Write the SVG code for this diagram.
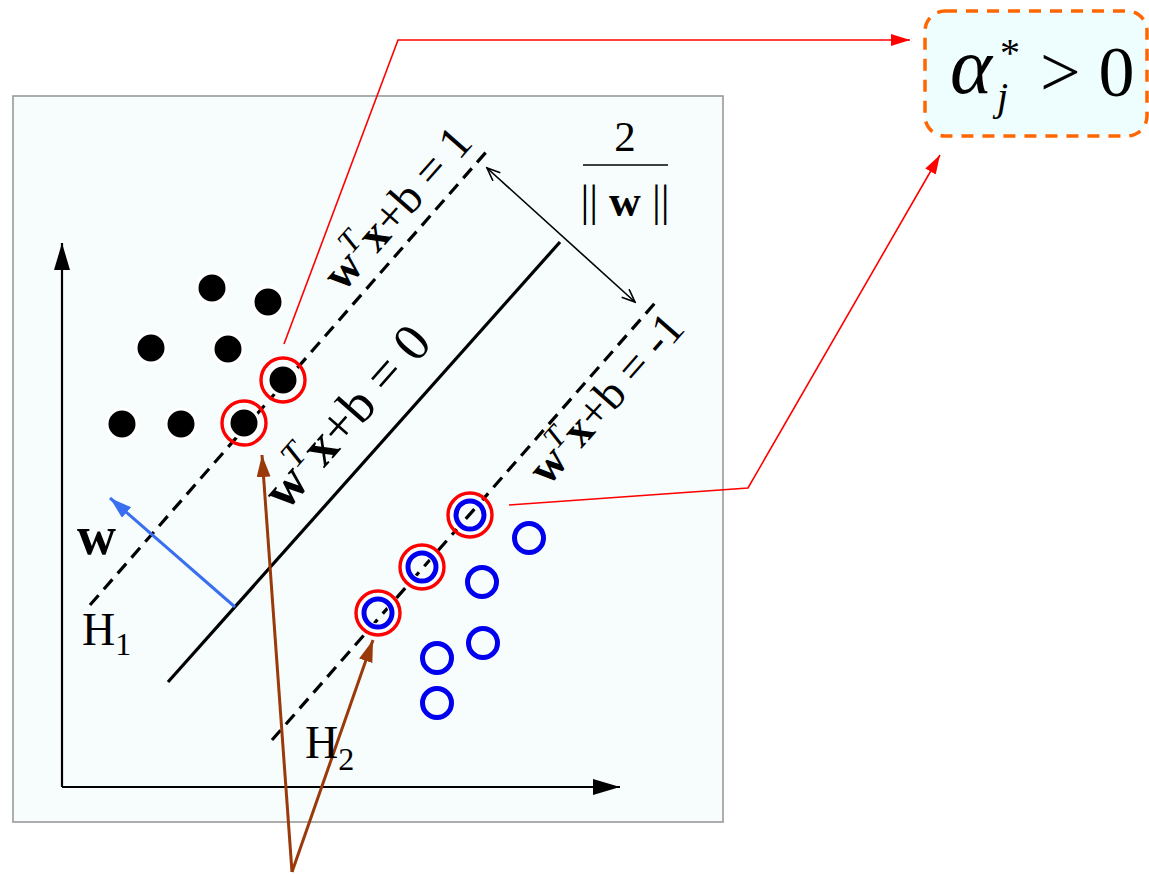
<svg xmlns="http://www.w3.org/2000/svg" width="1149" height="874" viewBox="0 0 1149 874">
<defs>
<style>
text{font-family:"Liberation Serif","Times New Roman",serif;fill:#000}
.b{font-weight:bold}
.i{font-style:italic}
.dash{stroke:#000;stroke-width:3.2;stroke-dasharray:13 8;fill:none}
.dot{fill:#000;stroke:#fff;stroke-width:3}
.ring{fill:none;stroke:#0000ee;stroke-width:5}
.halo{fill:none;stroke:#fff;stroke-width:9}
.sv{fill:none;stroke:#ff0000;stroke-width:3.4}
.red{stroke:#ff0000;stroke-width:1.6;fill:none}
.brown{stroke:#9a3a0a;stroke-width:3;fill:none}
</style>
<marker id="ah" markerUnits="userSpaceOnUse" markerWidth="28" markerHeight="18" refX="27" refY="8" orient="auto"><path d="M0,0 L27,8 L0,16 z" fill="#000"/></marker>
<marker id="ar" markerUnits="userSpaceOnUse" markerWidth="20" markerHeight="14" refX="19" refY="6" orient="auto"><path d="M0,0 L19,6 L0,12 z" fill="#ff0000"/></marker>
<marker id="ab" markerUnits="userSpaceOnUse" markerWidth="24" markerHeight="16" refX="22" refY="7" orient="auto"><path d="M0,0 L22,7 L0,14 z" fill="#9a3a0a"/></marker>
<marker id="abl" markerUnits="userSpaceOnUse" markerWidth="24" markerHeight="16" refX="22" refY="7" orient="auto"><path d="M0,0 L22,7 L0,14 z" fill="#3a70f0"/></marker>
<marker id="ao" markerUnits="userSpaceOnUse" markerWidth="16" markerHeight="14" refX="14" refY="6" orient="auto-start-reverse"><path d="M1,0.5 L14,6 L1,11.5" fill="none" stroke="#000" stroke-width="1.6"/></marker>
</defs>

<g id="panel">
<rect x="13" y="96" width="710" height="726" fill="#f7fdfd" stroke="#999" stroke-width="1.6"/>
</g>

<g id="axes">
<line x1="62" y1="787" x2="62" y2="243" stroke="#000" stroke-width="2.2" marker-end="url(#ah)"/>
<line x1="62" y1="787" x2="620" y2="787" stroke="#000" stroke-width="2.2" marker-end="url(#ah)"/>
</g>

<g id="hyperplanes">
<line x1="168" y1="682" x2="560" y2="242" stroke="#000" stroke-width="3.2"/>
<line class="dash" x1="90" y1="605" x2="487" y2="151"/>
<line class="dash" x1="272" y1="740" x2="655" y2="303"/>
</g>

<g id="class-neg">
<circle class="dot" cx="212" cy="288" r="15"/>
<circle class="dot" cx="268" cy="302" r="15"/>
<circle class="dot" cx="151" cy="348" r="15"/>
<circle class="dot" cx="228" cy="349" r="15"/>
<circle class="dot" cx="122" cy="424" r="15"/>
<circle class="dot" cx="181" cy="424" r="15"/>
<circle class="dot" cx="283" cy="380" r="15"/>
<circle class="dot" cx="244" cy="423" r="15"/>
<circle class="sv" cx="283" cy="380" r="22"/>
<circle class="sv" cx="244" cy="423" r="22"/>
</g>

<g id="class-pos">
<circle class="ring" cx="529" cy="538" r="14.5"/>
<circle class="ring" cx="482" cy="582" r="14.5"/>
<circle class="ring" cx="483" cy="643" r="14.5"/>
<circle class="ring" cx="437" cy="658" r="14.5"/>
<circle class="ring" cx="437" cy="703" r="14.5"/>
<circle class="halo" cx="470" cy="515" r="15"/>
<circle class="halo" cx="422" cy="567" r="15"/>
<circle class="halo" cx="378" cy="613" r="15"/>
<circle class="ring" cx="470" cy="515" r="14"/>
<circle class="ring" cx="422" cy="567" r="14"/>
<circle class="ring" cx="378" cy="613" r="14"/>
<circle class="sv" cx="470" cy="515" r="22"/>
<circle class="sv" cx="422" cy="567" r="22"/>
<circle class="sv" cx="378" cy="613" r="22"/>
</g>

<g id="connectors">
<line x1="235" y1="607" x2="110" y2="498" stroke="#3a70f0" stroke-width="3" marker-end="url(#abl)"/>
<line x1="487" y1="168" x2="635" y2="302" stroke="#000" stroke-width="1.6" marker-start="url(#ao)" marker-end="url(#ao)"/>
<polyline class="red" points="284,344 398,40 910,40" marker-end="url(#ar)"/>
<polyline class="red" points="509,505 748,488 940,155" marker-end="url(#ar)"/>
<line class="brown" x1="292" y1="872" x2="262" y2="455" marker-end="url(#ab)"/>
<line class="brown" x1="292" y1="872" x2="373" y2="640" marker-end="url(#ab)"/>
</g>

<g id="labels">
<text x="77" y="554" font-size="54" class="b">w</text>
<text x="82" y="645" font-size="46">H<tspan font-size="32" dy="10">1</tspan></text>
<text x="305" y="758" font-size="46">H<tspan font-size="32" dy="12">2</tspan></text>
<g transform="translate(625,0)">
<text x="0" y="151" font-size="43" text-anchor="middle">2</text>
<line x1="-42" y1="165" x2="43" y2="165" stroke="#000" stroke-width="1.6"/>
<text x="0" y="216" font-size="44" text-anchor="middle">|| <tspan class="b">w</tspan> ||</text>
</g>
<text transform="translate(343,293) rotate(-48.7)" font-size="47"><tspan class="b">w</tspan><tspan class="i" font-size="32" dy="-19">T</tspan><tspan class="b" dy="19">x</tspan>+b = 1</text>
<text transform="translate(286,512) rotate(-48.7)" font-size="53"><tspan class="b">w</tspan><tspan class="i" font-size="35" dy="-21">T</tspan><tspan class="b" dy="21">x</tspan>+b = 0</text>
<text transform="translate(548,487) rotate(-48.7)" font-size="46"><tspan class="b">w</tspan><tspan class="i" font-size="31" dy="-18">T</tspan><tspan class="b" dy="18">x</tspan>+b = -1</text>
</g>

<g id="alpha-box">
<rect x="925" y="11" width="222" height="125" rx="20" ry="20" fill="#eefdfd" stroke="#ff6600" stroke-width="3.5" stroke-dasharray="12 9"/>
<text x="950" y="93" font-size="80" class="i">α</text>
<text x="1000" y="66" font-size="40">*</text>
<text x="997" y="110" font-size="40" class="i">j</text>
<text x="1040" y="96" font-size="72">&gt; 0</text>
</g>
</svg>
